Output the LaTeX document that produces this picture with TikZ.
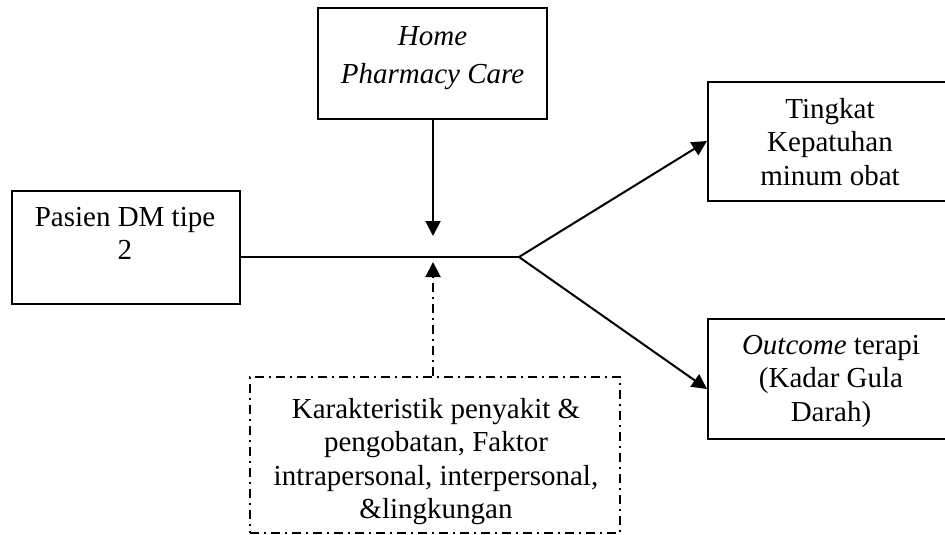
\documentclass[tikz,border=0pt]{standalone}
\usepackage{fontspec}
\setmainfont{Liberation Serif}
\usetikzlibrary{arrows.meta}
\begin{document}
\begin{tikzpicture}[x=1pt,y=-1pt,
  box/.style={draw, line width=2pt, inner sep=0pt, rectangle},
  txt/.style={align=center, inner sep=0pt, anchor=north, font=\fontsize{29}{33.5}\selectfont},
  ln/.style={line width=2pt},
  arr/.style={line width=2pt, -{Triangle[length=15pt,width=15pt]}},
  dashdot/.style={dash pattern=on 9pt off 5pt on 2pt off 5pt}]
\useasboundingbox (0,0) rectangle (945,535);
% boxes
\node[box, minimum width=228pt, minimum height=113pt] (pasien) at (126,247.5) {};
\node[txt] (pasientxt) at (125,207) {Pasien DM tipe\\2};
\node[box, minimum width=229pt, minimum height=111pt] (home) at (432.5,63.5) {};
\node[txt, font=\fontsize{29}{38}\selectfont] (hometxt) at (432.5,26) {\itshape Home\\\itshape Pharmacy Care};
\node[box, minimum width=244pt, minimum height=119pt] (tingkat) at (830,141.5) {};
\node[txt] (tingkattxt) at (830,98) {Tingkat\\Kepatuhan\\minum obat};
\node[box, minimum width=244pt, minimum height=120pt] (outcome) at (830,379) {};
\node[txt] (outcometxt) at (831,335) {\textit{Outcome} terapi\\(Kadar Gula\\Darah)};
\node[box, dashdot, minimum width=370pt, minimum height=156pt] (faktor) at (435,455) {};
\node[txt] (faktortxt) at (436,398) {Karakteristik penyakit \&\\pengobatan, Faktor\\intrapersonal, interpersonal,\\\&lingkungan};
% connectors
\coordinate (mid) at (433,257);
\coordinate (split) at (519,257);
\coordinate (downtip) at (433,236);
\coordinate (uptip) at (433,262);
\draw[ln] (pasien.east |- mid) -- (split);
\draw[arr] (home.south -| mid) -- (downtip);
\draw[arr, dashdot] (faktor.north -| mid) -- (uptip);
\draw[arr] (split) -- (tingkat.west |- 0,141);
\draw[arr] (split) -- (outcome.west |- 0,389);
\end{tikzpicture}
\end{document}
